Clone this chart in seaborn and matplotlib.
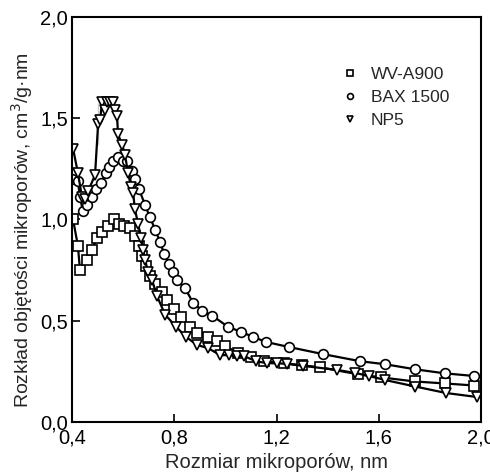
import numpy as np
import pandas as pd
import matplotlib
matplotlib.use("Agg")
import matplotlib.pyplot as plt
import seaborn as sns
from matplotlib.ticker import FuncFormatter, MultipleLocator

# WV-A900 (squares)
wv_x = [0.404, 0.423, 0.431, 0.459, 0.478, 0.498, 0.517, 0.541, 0.564, 0.584,
        0.603, 0.627, 0.646, 0.660, 0.675, 0.690, 0.705, 0.725, 0.750, 0.770,
        0.800, 0.825, 0.860, 0.890, 0.930, 0.965, 1.000, 1.050, 1.100, 1.150,
        1.230, 1.300, 1.370, 1.520, 1.610, 1.740, 1.860, 1.973]
wv_y = [1.00, 0.87, 0.75, 0.80, 0.85, 0.91, 0.94, 0.97, 1.00, 0.98,
        0.97, 0.96, 0.92, 0.87, 0.82, 0.77, 0.72, 0.68, 0.64, 0.60,
        0.56, 0.52, 0.47, 0.44, 0.42, 0.40, 0.375, 0.34, 0.32, 0.30,
        0.29, 0.28, 0.27, 0.235, 0.22, 0.20, 0.19, 0.18]

# BAX 1500 (circles)
bax_x = [0.400, 0.423, 0.431, 0.443, 0.459, 0.478, 0.494, 0.513, 0.533, 0.545,
         0.560, 0.580, 0.600, 0.615, 0.635, 0.646, 0.662, 0.686, 0.705, 0.725,
         0.744, 0.760, 0.780, 0.795, 0.811, 0.842, 0.873, 0.909, 0.948, 1.010,
         1.061, 1.108, 1.159, 1.249, 1.382, 1.527, 1.625, 1.742, 1.859, 1.973]
bax_y = [1.20, 1.19, 1.11, 1.04, 1.07, 1.11, 1.15, 1.18, 1.23, 1.26,
         1.29, 1.31, 1.29, 1.29, 1.24, 1.20, 1.15, 1.07, 1.01, 0.95,
         0.89, 0.83, 0.78, 0.74, 0.70, 0.66, 0.59, 0.55, 0.525, 0.47,
         0.445, 0.42, 0.395, 0.37, 0.335, 0.30, 0.285, 0.26, 0.24, 0.227]

# NP5 (triangles)
np5_x = [0.404, 0.423, 0.439, 0.451, 0.463, 0.490, 0.502, 0.510, 0.502, 0.517,
         0.529, 0.537, 0.549, 0.560, 0.568, 0.576, 0.580, 0.596, 0.607, 0.619,
         0.631, 0.639, 0.646, 0.658, 0.670, 0.678, 0.686, 0.697, 0.713, 0.733,
         0.764, 0.807, 0.846, 0.889, 0.932, 0.979, 1.014, 1.046, 1.073, 1.120,
         1.163, 1.202, 1.241, 1.304, 1.437, 1.507, 1.562, 1.625, 1.742, 1.863,
         1.985]
np5_y = [1.35, 1.23, 1.11, 1.10, 1.14, 1.22, 1.37, 1.49, 1.575, 1.58,
         1.54, 1.58, 1.58, 1.58, 1.54, 1.51, 1.42, 1.37, 1.32, 1.23,
         1.16, 1.13, 1.05, 0.98, 0.91, 0.85, 0.80, 0.74, 0.70, 0.62,
         0.53, 0.47, 0.42, 0.38, 0.365, 0.33, 0.33, 0.325, 0.325, 0.30,
         0.29, 0.29, 0.287, 0.277, 0.257, 0.242, 0.227, 0.207, 0.175, 0.143,
         0.123]

series = [("WV-A900", wv_x, wv_y, "s"),
          ("BAX 1500", bax_x, bax_y, "o"),
          ("NP5", np5_x, np5_y, "v")]

sns.set_style("ticks")
plt.rcParams['font.family'] = ['Liberation Sans', 'DejaVu Sans']

fig = plt.figure(figsize=(4.9, 4.72), dpi=100)
ax = fig.add_axes([0.147, 0.106, 0.835, 0.858])

for name, xs, ys, m in series:
    df = pd.DataFrame({"x": xs, "y": ys})
    sns.lineplot(data=df, x="x", y="y", sort=False, ax=ax, color="black",
                 linewidth=1.6, marker=m, markersize=7,
                 markerfacecolor="white", markeredgecolor="black",
                 markeredgewidth=1.2, label=name)

ax.set_xlim(0.4, 2.0)
ax.set_ylim(0.0, 2.0)
ax.xaxis.set_major_locator(MultipleLocator(0.4))
ax.yaxis.set_major_locator(MultipleLocator(0.5))
fmt = FuncFormatter(lambda v, p: f"{v:.1f}".replace(".", ","))
ax.xaxis.set_major_formatter(fmt)
ax.yaxis.set_major_formatter(fmt)
ax.tick_params(direction="in", length=6, width=1.2, labelsize=14.5, colors="black")
ax.tick_params(axis="x", pad=5)
ax.tick_params(axis="y", pad=3)
for s in ax.spines.values():
    s.set_linewidth(1.5)
    s.set_color("black")

ax.set_xlabel("Rozmiar mikroporów, nm", fontsize=14.5, labelpad=4)
ax.set_ylabel("Rozkład objętości mikroporów, cm$^3$/g·nm", fontsize=14, labelpad=0)
ax.yaxis.set_label_coords(-0.09, 0.475)

leg = ax.legend(loc="upper right", bbox_to_anchor=(0.96, 0.915), frameon=False,
                fontsize=12.5, markerscale=0.6, handlelength=0.6,
                handletextpad=0.9, labelspacing=0.45)
for h in leg.get_lines():
    h.set_linestyle("none")

fig.savefig("out.png", dpi=100)
